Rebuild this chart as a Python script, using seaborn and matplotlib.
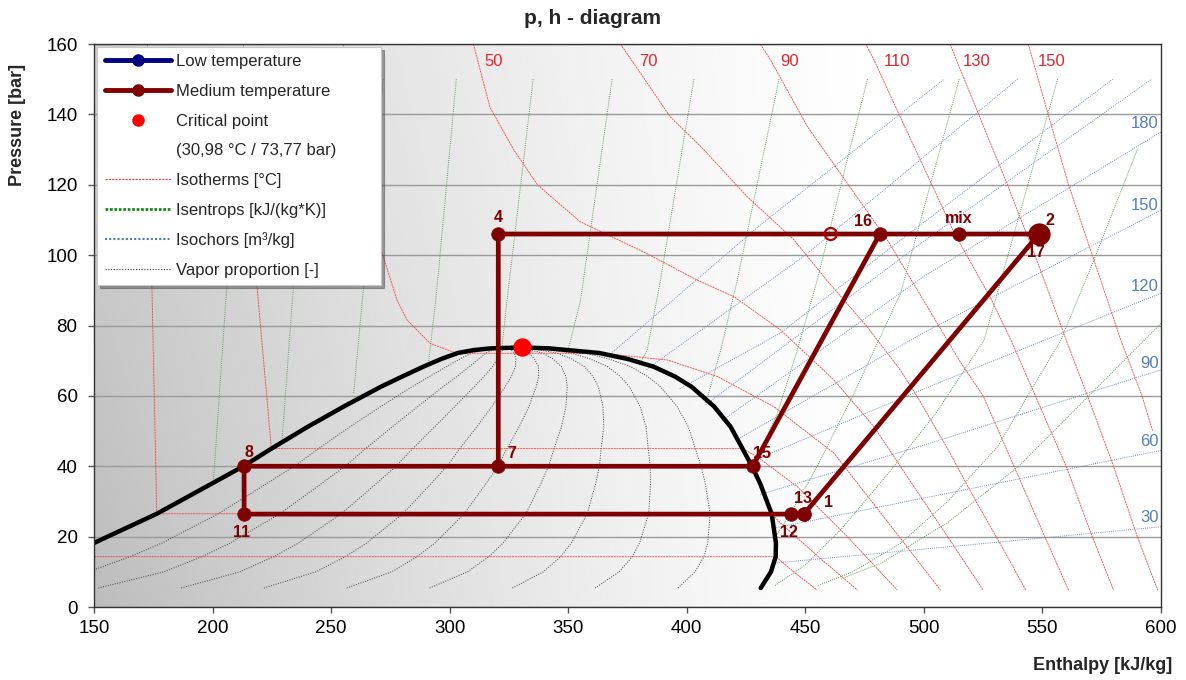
import numpy as np
import pandas as pd
import matplotlib
matplotlib.use("Agg")
import matplotlib.pyplot as plt
import seaborn as sns
from matplotlib.lines import Line2D

# ---------------- data ----------------
# saturation dome
sat_p = [5.4, 10, 14.3, 18.2, 26.5, 35, 40, 45, 51.2, 57, 62.6, 65.5, 68.3, 70.5, 72.2, 73.0, 73.5, 73.77]
sat_hl = [82, 115.6, 135, 150, 176.5, 199.5, 213, 224.8, 240.1, 255.4, 271, 280, 288.9, 296.5, 303.5, 310, 317.2, 330.7]
sat_hv = [431.2, 435.5, 437.5, 437.6, 435.8, 431, 427.5, 423.5, 418.5, 411.5, 402, 395, 386, 375, 363, 350, 342, 330.7]
quality_levels = [0.1, 0.2, 0.3, 0.4, 0.5, 0.6, 0.7, 0.8, 0.9]

critical_h = 330.7
critical_p = 73.77

# cycle state points
pt_names = ["1", "2", "4", "7", "8", "11", "12", "13", "15", "16", "17", "mix", "open"]
pt_h = [449.4, 548.5, 320.5, 320.5, 213.3, 213.3, 443.8, 449.4, 427.8, 481.4, 548.5, 514.7, 460.7]
pt_p = [26.4, 106, 106, 40, 40, 26.4, 26.4, 26.4, 40, 106, 106, 106, 106]
path_main = ["4", "7", "8", "11", "12", "13", "1", "2", "mix", "16", "open", "4"]
path_branch = ["7", "15", "16"]
marked = ["1", "4", "7", "8", "11", "12", "13", "15", "16", "mix"]

# isotherms (h, p)
iso_m30 = [(150, 14.3), (437.5, 14.3), (446, 9.5), (455, 4.8)]
iso_m10 = [(172.5, 160), (174.4, 91.5), (176.5, 26.5), (435.8, 26.5), (439.6, 23.8), (456, 14), (472, 4.8)]
iso_10 = [(213, 160), (218.7, 91.5), (224.8, 45), (423.5, 45), (429.7, 42.7), (446.6, 34.2), (467.7, 20), (488.8, 4.8)]
iso_30 = [(255, 160), (263, 130), (270.7, 102.4), (277.8, 87.2), (282, 81.6), (291.8, 74.9), (303, 72.1),
          (364, 72.1), (391.8, 70.2), (412.9, 65.5), (436.8, 56.9), (462.1, 43.7), (478, 30), (493, 17), (507, 4.8)]
iso_50 = [(310, 160), (317, 142), (327, 130), (337, 120), (355, 109.5), (383, 100.5), (404.4, 92.9), (419.9, 88.2),
          (439.6, 78.7), (462.1, 64.5), (479, 51.2), (495, 35), (511, 19), (525, 4.8)]
iso_70 = [(372, 160), (380.5, 151.7), (393, 139.3), (406, 130.8), (425.5, 116.6), (445, 104.5), (459, 92.9),
          (476, 79.7), (490, 67.4), (497, 60), (510, 45), (522, 30), (533, 17), (543, 4.8)]
iso_90 = [(431, 160), (435.4, 155.4), (450.9, 136.5), (467.7, 120.4), (484.6, 104.3), (500, 87), (515, 70),
          (525, 60), (538, 40), (551, 20), (561, 4.8)]
iso_110 = [(475.5, 160), (479, 155.4), (490, 139.3), (502, 122), (513, 106), (528, 88), (536.7, 75.9),
           (547, 60), (560, 40), (571, 20), (580, 4.8)]
iso_130 = [(511, 160), (522.6, 140.8), (535, 120.4), (546.5, 100.5), (554, 87), (560, 75.9), (569, 60),
           (580, 40), (590, 20), (598.6, 4.8)]
iso_150 = [(544, 160), (552, 141), (561, 120), (571, 100), (580, 82), (583, 75.9), (592, 60), (596.5, 50)]
isotherm_labels = ["50", "70", "90", "110", "130", "150"]
isotherm_label_h = [318.4, 383.9, 443.4, 488.5, 522.3, 554]
isotherm_label_p = 154.9

# isentrops (h, p)
s_1 = [(212, 150), (206, 91), (200.4, 36)]
s_2 = [(242, 150), (234.1, 91), (229.2, 46.5)]
s_3 = [(272, 150), (263.7, 91), (259.5, 60.7)]
s_4 = [(302.8, 150), (294.7, 91), (291.1, 69.3)]
s_5 = [(335.2, 150), (324.2, 87.2), (322, 73.7)]
s_6 = [(368.5, 150), (355.2, 87.2), (350, 73.2)]
s_7 = [(403, 150), (388.9, 92.9), (383.3, 73), (380, 68.8)]
s_8 = [(438.9, 150), (421.3, 92.9), (414.3, 73), (410, 62.6), (408, 58)]
s_9 = [(476.2, 150), (455, 92.9), (446.6, 73), (438.2, 55), (429, 41)]
s_10 = [(514.9, 150), (490.2, 89.2), (470, 60), (455, 40), (445, 28), (437.5, 20)]
s_11 = [(556.4, 150), (525.4, 75.9), (505, 55), (485, 38), (465, 22), (450, 12), (437, 6)]
s_12 = [(590, 130), (571.7, 98.6), (557.8, 75.9), (531, 45.5), (510, 30), (490, 18), (470, 10), (455, 6)]
s_13 = [(600, 80.6), (540, 40), (510, 24), (481.8, 12.4), (465, 8)]

# isochors (h, p)
v_30 = [(437, 12.5), (481.8, 15.3), (600, 22.8)]
v_60 = [(436, 22.3), (481.8, 28.5), (600, 44.5)]
v_90 = [(431, 32), (500, 46), (600, 67.4)]
v_120 = [(426, 41), (500, 62), (600, 89.2)]
v_150 = [(421, 47.5), (500, 78), (600, 112.8)]
v_180 = [(415, 53), (500, 94), (600, 135)]
v_210 = [(408, 57.5), (500, 104), (596, 150)]
v_240 = [(397, 62), (439.6, 77.9), (490.2, 104.3), (579.6, 150)]
v_300 = [(383, 67.5), (450, 100), (539.5, 150)]
v_360 = [(368, 72), (430, 108), (508.5, 150)]
isochor_labels = ["180", "150", "120", "90", "60", "30"]
isochor_label_p = [137.3, 114.2, 91.2, 69.3, 46.9, 25.3]

# ---------------- styling ----------------
sns.set_style("white")
plt.rcParams["font.family"] = ["Liberation Sans", "DejaVu Sans"]

C_CYCLE = "#7f0000"
C_ISOT = "#f04848"
C_ISEN = "#5f9a5f"
C_ISOC = "#6f8fc0"
C_QUAL = "#404040"

fig = plt.figure(figsize=(11.86, 6.8), dpi=100)
ax = fig.add_axes([94 / 1186, 73 / 680, 1067 / 1186, 563 / 680])

# background gradient (style only)
u = np.linspace(0, 1, 400)
v = np.linspace(0, 1, 200)
U, V = np.meshgrid(u, v)
shade = 1 - 0.26 * np.clip(1 - U / 0.75, 0, None) ** 1.3 * (0.72 + 0.28 * (1 - V))
ax.imshow(shade, extent=(150, 600, 0, 160), origin="lower", cmap="gray", vmin=0, vmax=1,
          aspect="auto", zorder=0, interpolation="bilinear")


def draw(pts, **kw):
    h, p = zip(*pts)
    sns.lineplot(x=list(h), y=list(p), sort=False, estimator=None, legend=False, ax=ax, **kw)


for line in [s_1, s_2, s_3, s_4, s_5, s_6, s_7, s_8, s_9, s_10, s_11, s_12, s_13]:
    draw(line, color=C_ISEN, lw=0.7, linestyle=(0, (1, 1.2)), zorder=2)
for line in [v_30, v_60, v_90, v_120, v_150, v_180, v_210, v_240, v_300, v_360]:
    draw(line, color=C_ISOC, lw=0.7, linestyle=(0, (1, 1.2)), zorder=2)
for x in quality_levels:
    qh = [hl + x * (hv - hl) for hl, hv in zip(sat_hl, sat_hv)]
    draw(list(zip(qh, sat_p)), color=C_QUAL, lw=0.7, linestyle=(0, (1, 1.5)), zorder=2)
for line in [iso_m30, iso_m10, iso_10, iso_30, iso_50, iso_70, iso_90, iso_110, iso_130, iso_150]:
    draw(line, color=C_ISOT, lw=0.6, linestyle=(0, (2.5, 0.8)), zorder=3)

# saturation dome
dome = list(zip(sat_hl, sat_p)) + list(zip(sat_hv[::-1], sat_p[::-1]))
draw(dome, color="black", lw=3.2, zorder=4)

# cycle
pts = pd.DataFrame({"h": pt_h, "p": pt_p}, index=pt_names)
for path in [path_main, path_branch]:
    sub = pts.loc[path]
    sns.lineplot(data=sub, x="h", y="p", sort=False, estimator=None, legend=False, ax=ax,
                 color=C_CYCLE, lw=3.4, zorder=6)
sub = pts.loc[marked]
sns.scatterplot(data=sub, x="h", y="p", s=95, color=C_CYCLE, edgecolor=C_CYCLE, linewidth=0.5,
                legend=False, ax=ax, zorder=7)
sub = pts.loc[["2"]]
sns.scatterplot(data=sub, x="h", y="p", s=220, color=C_CYCLE, edgecolor=C_CYCLE,
                legend=False, ax=ax, zorder=7)
sub = pts.loc[["open"]]
sns.scatterplot(data=sub, x="h", y="p", s=75, facecolor="none", edgecolor="#b00000", linewidth=1.6,
                legend=False, ax=ax, zorder=7)
sns.scatterplot(x=[critical_h], y=[critical_p], s=150, color="red", edgecolor="red",
                legend=False, ax=ax, zorder=8)

label_offsets = {"4": (0, 12), "16": (-12, 9), "mix": (0, 11), "2": (8, 9.5), "17": (-2, -13.5),
                 "7": (9.5, 9.5), "8": (3.5, 10), "11": (-1.5, -13.5), "15": (7, 9.5),
                 "12": (-1.5, -13.5), "13": (-1, 11), "1": (18, 8)}
for name, off in label_offsets.items():
    ax.annotate(name, (pts.loc[name, "h"], pts.loc[name, "p"]), xytext=off, textcoords="offset points",
                ha="center", va="center", fontsize=11.5, fontweight="bold", color=C_CYCLE, zorder=9)

for lab, h in zip(isotherm_labels, isotherm_label_h):
    ax.text(h, isotherm_label_p, lab, color="#e3262e", fontsize=12, ha="center", va="center", zorder=5)
for lab, p in zip(isochor_labels, isochor_label_p):
    ax.text(599, p, lab, color="#4f7fbd", fontsize=12, ha="right", va="center", zorder=5)

# axes
ax.set_xlim(150, 600)
ax.set_ylim(0, 160)
ax.set_xticks(np.arange(150, 601, 50))
ax.set_yticks(np.arange(0, 161, 20))
ax.set_xlabel("")
ax.set_ylabel("")
ax.set_axisbelow(True)
ax.yaxis.grid(True, color="#9a9a9a", lw=1)
ax.xaxis.grid(False)
ax.tick_params(axis="both", which="major", bottom=True, left=True, direction="out", length=4.3,
               width=1, color="#555555", labelsize=13.5, labelcolor="black")
ax.tick_params(axis="x", pad=5)
ax.tick_params(axis="y", pad=7.5)
for sp in ax.spines.values():
    sp.set_color("#333333")
    sp.set_linewidth(1)
    sp.set_zorder(10)

# legend
handles = [
    Line2D([], [], color="#000080", lw=3.5, marker="o", ms=8),
    Line2D([], [], color="#800000", lw=3.5, marker="o", ms=8),
    Line2D([], [], color="red", lw=0, marker="o", ms=8),
    Line2D([], [], color="none", lw=0),
    Line2D([], [], color="#f04040", lw=0.8, linestyle=(0, (2, 1))),
    Line2D([], [], color="#1a8a1a", lw=2, linestyle=(0, (1, 0.6))),
    Line2D([], [], color="#4a7ebb", lw=1.5, linestyle=(0, (1, 1))),
    Line2D([], [], color="#333333", lw=0.8, linestyle=(0, (1, 1.5))),
]
labels = ["Low temperature", "Medium temperature", "Critical point", "(30,98 °C / 73,77 bar)",
          "Isotherms [°C]", "Isentrops [kJ/(kg*K)]", "Isochors [m³/kg]", "Vapor proportion [-]"]
leg = ax.legend(handles, labels, loc="upper left", bbox_to_anchor=(0.003, 0.5, 0.2664, 0.495),
                mode="expand", borderaxespad=0, fontsize=12, handlelength=4.0, handletextpad=0.3,
                labelspacing=0.88, borderpad=0.45, frameon=True, fancybox=False, shadow=True,
                framealpha=1, numpoints=1)
leg.get_frame().set_edgecolor("#c8c8c8")
leg.get_frame().set_linewidth(0.8)
leg.set_zorder(20)

fig.text(0.5, 1 - 18 / 680, "p, h - diagram", ha="center", va="center", fontsize=15, fontweight="bold")
fig.text(18 / 1186, 1 - 125 / 680, "Pressure [bar]", rotation=90, ha="center", va="center",
         fontsize=13, fontweight="bold")
fig.text(1172 / 1186, 1 - 665 / 680, "Enthalpy [kJ/kg]", ha="right", va="center", fontsize=13,
         fontweight="bold")

fig.savefig("out.png", dpi=100)
